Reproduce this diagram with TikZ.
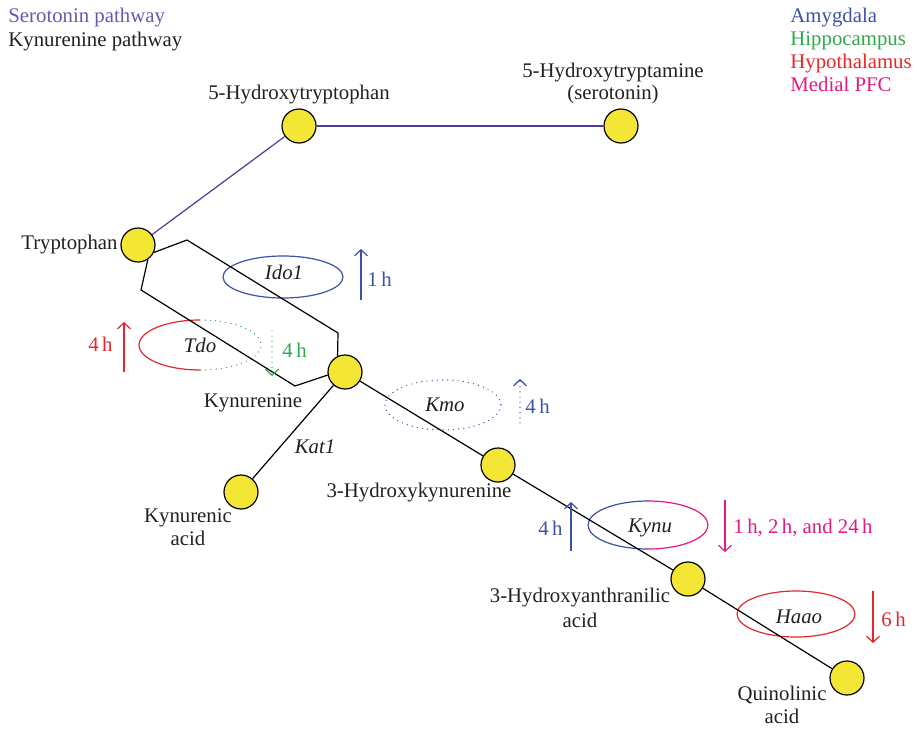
\documentclass[tikz,border=0pt]{standalone}
\usepackage{fontspec}
\setmainfont{Liberation Serif}
\usetikzlibrary{arrows.meta}
\definecolor{purT}{HTML}{6C58AA}
\definecolor{purL}{HTML}{4A3C9C}
\definecolor{bluC}{HTML}{3C52A4}
\definecolor{grnC}{HTML}{2DA84A}
\definecolor{redC}{HTML}{E7262B}
\definecolor{magC}{HTML}{E3197F}
\definecolor{yelC}{HTML}{F3E634}
\definecolor{txtC}{HTML}{231F20}
\begin{document}
\begin{tikzpicture}[x=0.5pt,y=-0.5pt,
  font=\fontsize{10.4}{12.5}\selectfont,
  met/.style={circle,draw=black,fill=yelC,line width=0.6pt,minimum size=17pt,inner sep=0pt},
  lbl/.style={inner sep=0pt,anchor=base,text=txtC},
  enz/.style={inner sep=0pt,anchor=base,text=txtC,font=\fontsize{10.4}{12.5}\selectfont\itshape},
  kpath/.style={line width=0.6pt,draw=black},
  spath/.style={line width=0.6pt,draw=purL},
  ell/.style={line width=0.6pt},
  ind/.style={line width=0.6pt,-{Straight Barb[length=3pt,width=6.5pt]}},
  dots/.style={line width=0.7pt,dash pattern=on 0pt off 2.6pt,line cap=round},
]
\useasboundingbox (0,0) rectangle (917,729);

% legends
\node[inner sep=0pt,anchor=base west,text=purT] (lg1) at (8,22) {Serotonin pathway};
\node[inner sep=0pt,anchor=base west,text=txtC] (lg2) at (8,46) {Kynurenine pathway};
\node[inner sep=0pt,anchor=base west,text=bluC] (lg3) at (790,22) {Amygdala};
\node[inner sep=0pt,anchor=base west,text=grnC] (lg4) at (790,45) {Hippocampus};
\node[inner sep=0pt,anchor=base west,text=redC] (lg5) at (790,68) {Hypothalamus};
\node[inner sep=0pt,anchor=base west,text=magC] (lg6) at (790,91) {Medial PFC};

% enzyme ellipses (drawn first, lines over them)
\draw[ell,bluC] (283,277) ellipse [x radius=60,y radius=21];
\draw[ell,redC] (200,320) arc[start angle=270,end angle=90,x radius=61,y radius=25];
\draw[ell,grnC,dots] (200,320) arc[start angle=-90,end angle=90,x radius=61,y radius=25];
\draw[ell,bluC,dots] (443,405) ellipse [x radius=58,y radius=25];
\draw[ell,bluC] (648,501) arc[start angle=270,end angle=90,x radius=60,y radius=24];
\draw[ell,magC] (648,501) arc[start angle=-90,end angle=90,x radius=60,y radius=24];
\draw[ell,redC] (796,614) ellipse [x radius=59,y radius=23];

% metabolites
\node[met] (trp) at (138,245) {};
\node[met] (htp) at (299,126) {};
\node[met] (ser) at (621,126) {};
\node[met] (kyn) at (345,372) {};
\node[met] (kna) at (241,492) {};
\node[met] (hk)  at (498,465) {};
\node[met] (haa) at (688,579) {};
\node[met] (qa)  at (847,678) {};

% serotonin pathway
\draw[spath] (trp) -- (htp);
\draw[spath] (htp) -- (ser);

% kynurenine pathway
\coordinate (u1) at (187,240);
\coordinate (u2) at (338,333);
\coordinate (l1) at (141,290);
\coordinate (l2) at (295,386);
\draw[kpath] (trp.-25) -- (u1) -- (u2) -- (kyn.115);
\draw[kpath] (trp.-56) -- (l1) -- (l2) -- (kyn.190);
\draw[kpath] (kyn) -- (kna);
\draw[kpath] (kyn) -- (hk);
\draw[kpath] (hk) -- (haa);
\draw[kpath] (haa) -- (qa);

% metabolite labels
\node[lbl] (t1) at (299,99) {5-Hydroxytryptophan};
\node[lbl] (t2) at (613,77) {5-Hydroxytryptamine};
\node[lbl] (t3) at (613,99) {(serotonin)};
\node[lbl,anchor=base east] (t4) at (118,249) {Tryptophan};
\node[lbl] (t5) at (253,407) {Kynurenine};
\node[lbl] (t6) at (188,522) {Kynurenic};
\node[lbl] (t7) at (188,545) {acid};
\node[lbl] (t8) at (419,497) {3-Hydroxykynurenine};
\node[lbl] (t9) at (580,602) {3-Hydroxyanthranilic};
\node[lbl] (t10) at (580,627) {acid};
\node[lbl] (t11) at (782,700) {Quinolinic};
\node[lbl] (t12) at (782,723) {acid};

% enzyme labels
\node[enz] (e1) at (284,279) {Ido1};
\node[enz] (e2) at (200,352) {Tdo};
\node[enz] (e3) at (445,411) {Kmo};
\node[enz] (e4) at (650,532) {Kynu};
\node[enz] (e5) at (799,623) {Haao};
\node[enz] (e6) at (315,453) {Kat1};

% change indicators
\draw[ind,bluC] (361,300) -- (361,249);
\node[inner sep=0pt,anchor=base west,text=bluC] (h1) at (367,286) {1\,h};

\draw[ind,redC] (124,372) -- (124,322);
\node[inner sep=0pt,anchor=base east,text=redC] (h2) at (113,351) {4\,h};

\draw[grnC,dots] (272,331) -- (272,375);
\draw[ind,grnC] (272,374) -- (272,376);
\node[inner sep=0pt,anchor=base west,text=grnC] (h3) at (282,357) {4\,h};

\draw[bluC,dots] (520,423) -- (520,380);
\draw[ind,bluC] (520,381) -- (520,379);
\node[inner sep=0pt,anchor=base west,text=bluC] (h4) at (525,413) {4\,h};

\draw[ind,bluC] (571,551) -- (571,502);
\node[inner sep=0pt,anchor=base east,text=bluC] (h5) at (563,535) {4\,h};

\draw[ind,magC] (725,500) -- (725,552);
\node[inner sep=0pt,anchor=base west,text=magC] (h6) at (733,533) {1\,h, 2\,h, and 24\,h};

\draw[ind,redC] (873,591) -- (873,643);
\node[inner sep=0pt,anchor=base west,text=redC] (h7) at (881,626) {6\,h};
\end{tikzpicture}
\end{document}
